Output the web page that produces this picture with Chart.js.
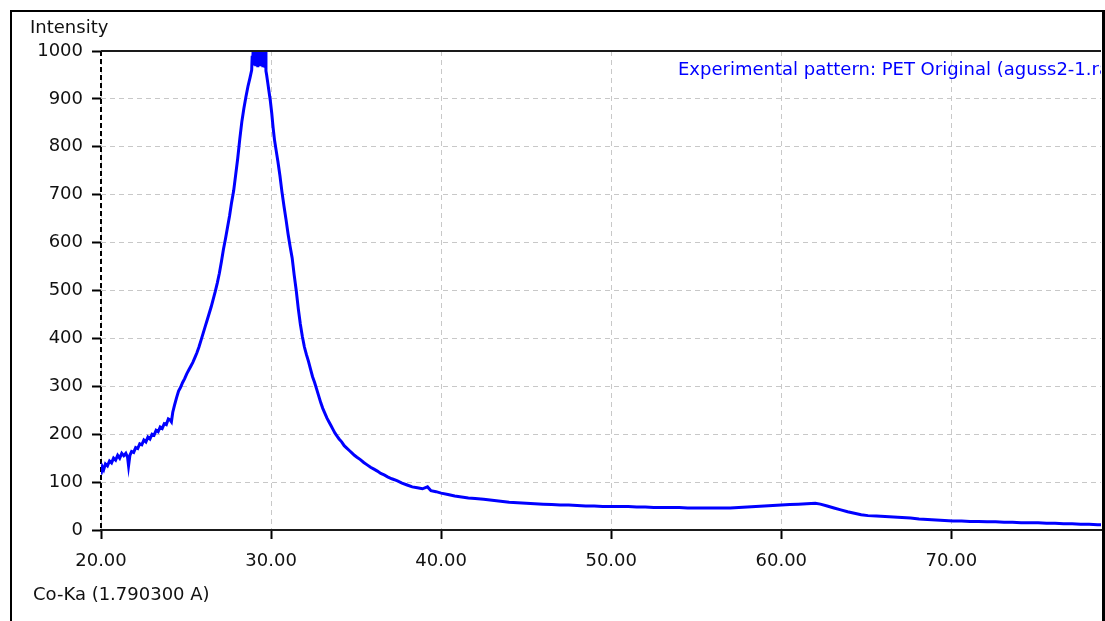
<!DOCTYPE html>
<html>
<head>
<meta charset="utf-8">
<script src="https://cdn.jsdelivr.net/npm/chart.js@4.4.1/dist/chart.umd.min.js"></script>
<style>
    html, body { margin: 0; padding: 0; background: #fff; }
    #wrap { width: 1105px; height: 621px; position: relative; }
</style>
</head>
<body>
<div id="wrap"><canvas id="xrd" width="1105" height="621"></canvas></div>
<script>
// ---- Data (2-theta in degrees, counts) ----
const TWO_THETA = [
    20.00, 20.08, 20.16, 20.26, 20.38, 20.50, 20.62, 20.74, 20.86, 20.98,
    21.10, 21.22, 21.34, 21.46, 21.56, 21.62, 21.70, 21.80, 21.92, 22.04,
    22.16, 22.28, 22.40, 22.52, 22.64, 22.76, 22.88, 23.00, 23.12, 23.24,
    23.36, 23.48, 23.60, 23.72, 23.84, 23.96, 24.06, 24.14, 24.22, 24.32,
    24.44, 24.56, 24.68, 24.80, 24.92, 25.04, 25.16, 25.28, 25.40, 25.52,
    25.64, 25.76, 25.88, 26.00, 26.12, 26.24, 26.36, 26.48, 26.60, 26.72,
    26.84, 26.96, 27.08, 27.20, 27.32, 27.44, 27.56, 27.68, 27.80, 27.92,
    28.04, 28.16, 28.28, 28.40, 28.52, 28.64, 28.76,
    28.86, 28.89, 28.92, 28.95, 28.98, 29.01, 29.04, 29.07, 29.10, 29.13,
    29.16, 29.19, 29.22, 29.25, 29.28, 29.31, 29.34, 29.37, 29.40, 29.43,
    29.46, 29.49, 29.52, 29.55, 29.58, 29.61, 29.64, 29.67, 29.70, 29.74,
    29.80, 29.88, 29.96, 30.04, 30.12, 30.20, 30.30, 30.40, 30.52, 30.64,
    30.76, 30.88, 31.00, 31.12, 31.24, 31.36, 31.48, 31.60, 31.72, 31.84,
    31.96, 32.08, 32.20, 32.32, 32.44, 32.56, 32.68, 32.80, 32.92, 33.04,
    33.16, 33.28, 33.40, 33.52, 33.64, 33.76, 33.88, 34.00, 34.15, 34.30,
    34.45, 34.60, 34.75, 34.90, 35.05, 35.25, 35.45, 35.65, 35.85, 36.05,
    36.25, 36.45, 36.65, 36.85, 37.10, 37.40, 37.70, 38.00, 38.30, 38.60,
    38.90, 39.20, 39.40, 39.70, 40.00, 40.40, 40.80, 41.20, 41.60, 42.00,
    42.50, 43.00, 43.50, 44.00, 44.50, 45.00, 45.50, 46.00, 46.50, 47.00,
    47.50, 48.00, 48.50, 49.00, 49.50, 50.00, 50.50, 51.00, 51.50, 52.00,
    52.50, 53.00, 53.50, 54.00, 54.50, 55.00, 55.50, 56.00, 56.50, 57.00,
    57.50, 58.00, 58.50, 59.00, 59.50, 60.00, 60.50, 61.00, 61.50, 62.00,
    62.30, 62.70, 63.10, 63.50, 63.90, 64.30, 64.70, 65.10, 65.60, 66.10,
    66.60, 67.10, 67.60, 68.10, 68.60, 69.10, 69.60, 70.10, 70.60, 71.10,
    71.60, 72.10, 72.60, 73.10, 73.60, 74.10, 74.60, 75.10, 75.60, 76.10,
    76.60, 77.10, 77.60, 78.10, 78.60, 79.00
];
const INTENSITY = [
    116, 132, 126, 138, 134, 144, 140, 150, 146, 156,
    150, 160, 155, 160, 152, 134, 156, 164, 162, 172,
    170, 180, 178, 188, 184, 194, 190, 200, 198, 208,
    205, 215, 212, 222, 220, 232, 230, 226, 246, 260,
    276, 290, 298, 308, 316, 326, 334, 342, 350, 360,
    370, 382, 396, 410, 424, 438, 452, 466, 482, 498,
    516, 536, 560, 586, 608, 632, 656, 684, 708, 742,
    776, 816, 852, 880, 904, 926, 944,
    960, 990, 972, 1008, 970, 1012, 975, 1010, 968, 1015,
    972, 1010, 966, 1012, 970, 1010, 975, 1015, 968, 1010,
    972, 1008, 966, 1010, 970, 1005, 965, 1000, 958, 950,
    935, 915, 895, 870, 840, 815, 792, 770, 740, 706,
    676, 648, 618, 592, 568, 532, 500, 462, 430, 404,
    382, 366, 352, 336, 320, 308, 294, 280, 266, 254,
    244, 234, 226, 218, 210, 202, 196, 190, 184, 176,
    171, 166, 161, 156, 152, 147, 141, 136, 131, 127,
    123, 118, 115, 111, 107, 103, 98, 94, 90, 88,
    86, 90, 82, 80, 77, 74, 71, 69, 67, 66,
    64, 62, 60, 58, 57, 56, 55, 54, 53, 52,
    52, 51, 50, 50, 49, 49, 49, 49, 48, 48,
    47, 47, 47, 47, 46, 46, 46, 46, 46, 46,
    47, 48, 49, 50, 51, 52, 53, 54, 55, 56,
    54, 50, 46, 42, 38, 35, 32, 30, 29, 28,
    27, 26, 25, 23, 22, 21, 20, 19, 19, 18,
    18, 17, 17, 16, 16, 15, 15, 15, 14, 14,
    13, 13, 12, 12, 11, 11
];
const X_TICKS = [20, 30, 40, 50, 60, 70];
const Y_TICKS = [0, 100, 200, 300, 400, 500, 600, 700, 800, 900, 1000];

const SERIES_LABEL = 'Experimental pattern: PET Original (aguss2-1.raw)';
const X_TITLE = 'Co-Ka (1.790300 A)';
const Y_TITLE = 'Intensity';

const FONT = '18px "DejaVu Sans", Verdana, sans-serif';

// ---- Frame, titles and caption drawn straight on the canvas ----
const xrdDecor = {
    id: 'xrdDecor',
    beforeDatasetsDraw(chart) {
        const { ctx, chartArea: a } = chart;
        // dashed left axis
        ctx.save();
        ctx.strokeStyle = '#000';
        ctx.lineWidth = 2;
        ctx.setLineDash([5, 3]);
        ctx.beginPath();
        ctx.moveTo(a.left, a.top);
        ctx.lineTo(a.left, a.bottom);
        ctx.stroke();
        ctx.restore();
    },
    afterDraw(chart) {
        const { ctx, chartArea: a } = chart;
        ctx.save();
        ctx.strokeStyle = '#1a1a1a';
        ctx.lineWidth = 2;
        ctx.beginPath();
        ctx.moveTo(a.left, a.top);
        ctx.lineTo(a.right, a.top);
        ctx.stroke();

        // caption is cut by the plot edge, as in the original
        ctx.beginPath();
        ctx.rect(a.left, a.top, a.right - a.left, a.bottom - a.top);
        ctx.clip();
        ctx.font = FONT;
        ctx.fillStyle = '#0000ff';
        ctx.textBaseline = 'alphabetic';
        ctx.fillText(SERIES_LABEL, 678, 75);
        ctx.restore();

        ctx.save();
        ctx.font = FONT;
        ctx.fillStyle = '#111';
        ctx.textBaseline = 'alphabetic';
        ctx.fillText(Y_TITLE, 30, 33);
        ctx.fillText(X_TITLE, 33, 600);
        // outer frame
        ctx.fillStyle = '#000';
        ctx.fillRect(10, 10, 2, 611);
        ctx.fillRect(10, 10, 1095, 2);
        ctx.fillRect(1102, 10, 3, 611);
        ctx.restore();
    }
};

const points = TWO_THETA.map((t, i) => ({ x: t, y: INTENSITY[i] }));

new Chart(document.getElementById('xrd'), {
    type: 'line',
    data: {
        datasets: [{
            label: SERIES_LABEL,
            data: points,
            borderColor: '#0000ff',
            borderWidth: 3,
            pointRadius: 0,
            tension: 0,
            clip: 0
        }]
    },
    options: {
        responsive: false,
        animation: false,
        layout: { padding: { top: 51, right: 4, left: 0, bottom: 0 } },
        plugins: {
            legend: { display: false },
            tooltip: { enabled: false }
        },
        scales: {
            x: {
                type: 'linear',
                min: 20,
                max: 78.8,
                afterBuildTicks: s => { s.ticks = X_TICKS.map(v => ({ value: v })); },
                afterFit: s => { s.height = 91; },
                ticks: {
                    color: '#111',
                    font: { family: '"DejaVu Sans", Verdana, sans-serif', size: 18 },
                    padding: 12,
                    maxRotation: 0,
                    callback: v => Number(v).toFixed(2)
                },
                grid: {
                    color: '#c8c8c8',
                    lineWidth: 1,
                    tickColor: '#000',
                    tickLength: 9,
                    tickWidth: 2,
                    tickBorderDash: []
                },
                border: { display: true, color: '#1a1a1a', width: 2, dash: [5, 4] }
            },
            y: {
                min: 0,
                max: 1000,
                afterBuildTicks: s => { s.ticks = Y_TICKS.map(v => ({ value: v })); },
                afterFit: s => { s.width = 101; },
                ticks: {
                    color: '#111',
                    font: { family: '"DejaVu Sans", Verdana, sans-serif', size: 18 },
                    padding: 9,
                    callback: v => String(v)
                },
                grid: {
                    color: '#c8c8c8',
                    lineWidth: 1,
                    tickColor: '#000',
                    tickLength: 9,
                    tickWidth: 2,
                    tickBorderDash: []
                },
                border: { display: false, dash: [5, 4] }
            }
        }
    },
    plugins: [xrdDecor]
});
</script>
</body>
</html>
